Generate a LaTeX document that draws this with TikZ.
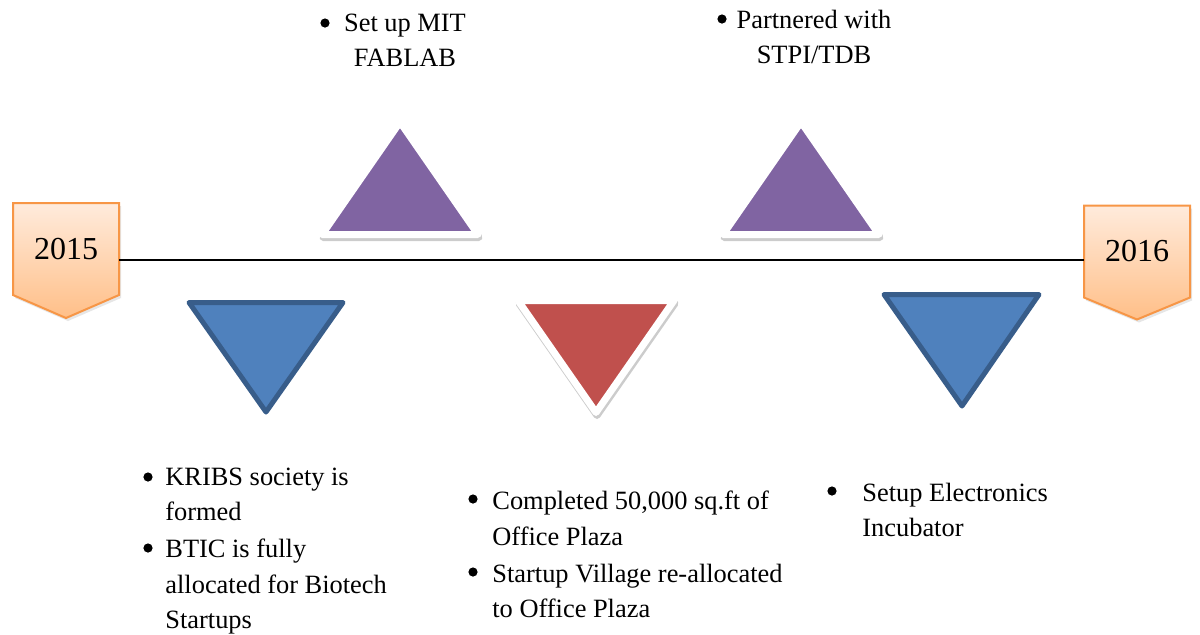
\documentclass[tikz,border=0pt]{standalone}
\usepackage{fontspec}
\setmainfont{Liberation Serif}
\usetikzlibrary{backgrounds,shadows}
\definecolor{yearline}{HTML}{F79646}
\definecolor{yeartop}{HTML}{FFEBDC}
\definecolor{yearbottom}{HTML}{FFBF88}
\definecolor{labpurple}{HTML}{8064A2}
\definecolor{plazared}{HTML}{C0504D}
\definecolor{kribsblue}{HTML}{4F81BD}
\definecolor{kribsedge}{HTML}{385D8A}

\begin{document}
\begin{tikzpicture}[x=0.5pt, y=-0.5pt,
        year/.style={minimum width=53pt, minimum height=46pt, inner sep=0pt, outer sep=0pt,
                font=\fontsize{16}{19}\selectfont},
        yearshape/.style={draw=yearline, line width=1pt, top color=yeartop, bottom color=yearbottom,
                drop shadow={shadow xshift=1pt, shadow yshift=-1.5pt, opacity=.2}},
        glowtri/.style={fill=#1, draw=white, line width=3.5pt, line join=round,
                drop shadow={shadow xshift=.5pt, shadow yshift=-1.5pt, opacity=.2,
                        fill=black, draw=black, line width=3.5pt, line join=round}},
        downtri/.style={fill=kribsblue, draw=kribsedge, line width=2.5pt, line join=round},
        note/.style={inner sep=0pt, anchor=north west, align=left,
                font=\fontsize{13.2}{17.75}\selectfont, execute at begin node=\strut},
        dot/.style={circle, fill=black, inner sep=0pt, minimum size=4.6pt}]
    \useasboundingbox (0,0) rectangle (1200,634);

    % years and the time line
    \node[year] (y15) at (66,249) {2015};
    \node[year] (y16) at (1137,251.5) {2016};
    \begin{scope}[on background layer]
        \path[yearshape] (y15.north west) -- (y15.north east) -- (y15.south east)
            -- ([yshift=-11.5pt]y15.south) -- (y15.south west) -- cycle;
        \path[yearshape] (y16.north west) -- (y16.north east) -- (y16.south east)
            -- ([yshift=-11pt]y16.south) -- (y16.south west) -- cycle;
    \end{scope}
    \coordinate (axis) at (0,260);
    \draw[line width=1pt] (y15.east |- axis) -- (y16.west |- axis);

    % markers
    \foreach \cx in {400,801}
        \draw[glowtri=labpurple] (\cx,122) -- ++(78,112.5) -- ++(-156,0) -- cycle;
    \draw[glowtri=plazared] (518,300.5) -- (674,300.5) -- (596,412.5) -- cycle;
    \draw[downtri] (189,302.5) -- (343,302.5) -- (266,412) -- cycle;
    \draw[downtri] (884,294.5) -- (1039,294.5) -- (962,406) -- cycle;

    % above the line
    \node[dot] (fablabdot) at (325,23) {};
    \node[note, anchor=north, align=center] (fablab) at (405,13.5) {Set up MIT\\FABLAB};
    \node[dot] (stpidot) at (722,19) {};
    \node[note, anchor=north, align=center] (stpi) at (814,9.5) {Partnered with\\STPI/TDB};

    % below the line
    \node[dot] (kribsdot) at (148,477) {};
    \node[note] (kribs) at (165,467.5) {KRIBS society is\\formed};
    \node[dot] (bticdot) at (148,548) {};
    \node[note] (btic) at (165,538.5) {BTIC is fully\\allocated for Biotech\\Startups};
    \node[dot] (plazadot) at (473,499) {};
    \node[note] (plaza) at (492,490.5) {Completed 50,000 sq.ft of\\Office Plaza};
    \node[dot] (villagedot) at (473,572) {};
    \node[note] (village) at (492,563.5) {Startup Village re-allocated\\to Office Plaza};
    \node[dot] (elecdot) at (832,491) {};
    \node[note] (elec) at (862,482.5) {Setup Electronics\\Incubator};
\end{tikzpicture}
\end{document}
